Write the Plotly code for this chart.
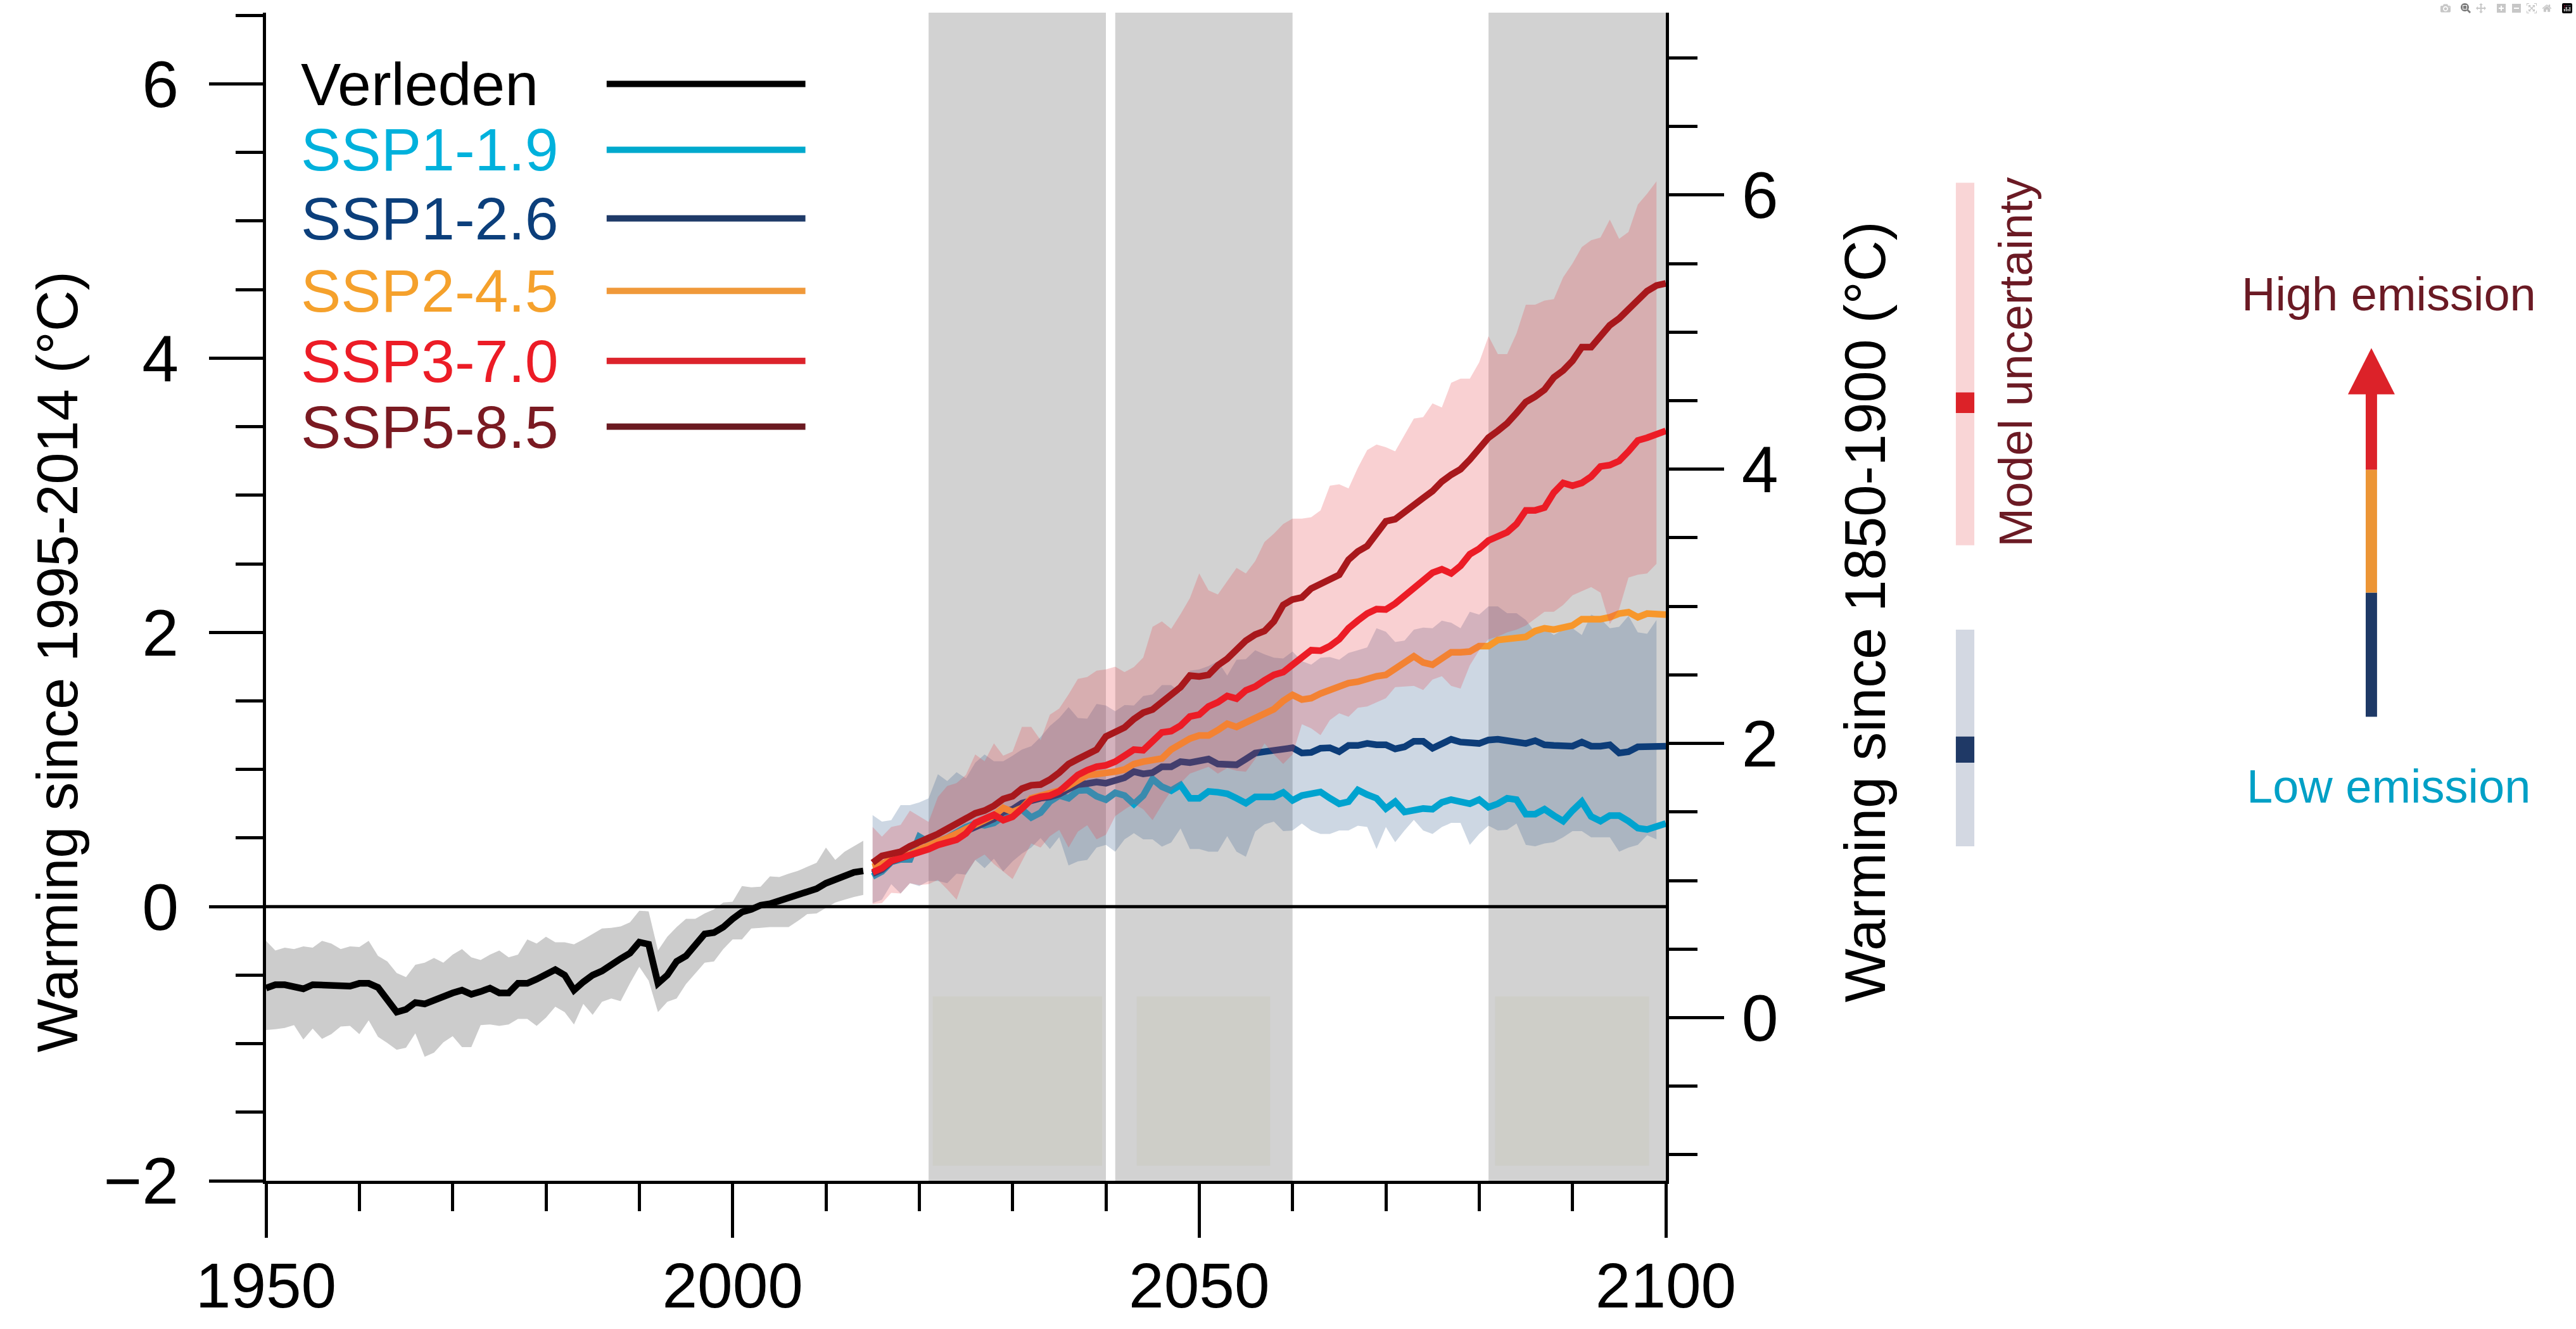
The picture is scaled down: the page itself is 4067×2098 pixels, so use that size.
import plotly.graph_objects as go

# ---------------- data ----------------
hist_years = list(range(1950, 2015))
hist_mean = [
    -0.595, -0.57, -0.57, -0.59, -0.60, -0.57, -0.57, -0.57, -0.58, -0.58,
    -0.56, -0.56, -0.59, -0.69, -0.77, -0.75, -0.70, -0.71, -0.68, -0.65,
    -0.63, -0.61, -0.64, -0.62, -0.595, -0.63, -0.63, -0.56, -0.56, -0.53,
    -0.49, -0.46, -0.50, -0.61, -0.55, -0.50, -0.47, -0.42, -0.38, -0.34,
    -0.26, -0.275, -0.56, -0.50, -0.40, -0.36, -0.28, -0.20, -0.19, -0.15,
    -0.09, -0.04, -0.02, 0.01, 0.02, 0.04, 0.06, 0.09, 0.10, 0.13,
    0.17, 0.20, 0.23, 0.25, 0.26]
hist_upper = [
    -0.25, -0.32, -0.30, -0.31, -0.29, -0.30, -0.25, -0.27, -0.31, -0.29,
    -0.295, -0.25, -0.36, -0.40, -0.485, -0.515, -0.425, -0.41, -0.375, -0.41,
    -0.35, -0.31, -0.37, -0.39, -0.35, -0.32, -0.37, -0.35, -0.24, -0.27,
    -0.22, -0.26, -0.26, -0.275, -0.24, -0.20, -0.16, -0.155, -0.145, -0.115,
    -0.03, -0.035, -0.32, -0.22, -0.15, -0.09, -0.09, -0.05, -0.02, 0.03,
    0.035, 0.15, 0.14, 0.145, 0.22, 0.215, 0.24, 0.26, 0.29, 0.32,
    0.43, 0.34, 0.40, 0.44, 0.48]
hist_lower = [
    -0.90, -0.895, -0.885, -0.865, -0.97, -0.89, -0.965, -0.93, -0.875, -0.87,
    -0.93, -0.83, -0.95, -0.995, -1.045, -1.03, -0.925, -1.095, -1.065, -0.99,
    -0.945, -1.025, -1.025, -0.865, -0.86, -0.87, -0.86, -0.82, -0.82, -0.87,
    -0.81, -0.73, -0.77, -0.86, -0.71, -0.79, -0.695, -0.67, -0.69, -0.56,
    -0.44, -0.54, -0.77, -0.695, -0.67, -0.565, -0.49, -0.41, -0.40, -0.31,
    -0.24, -0.24, -0.16, -0.155, -0.15, -0.15, -0.15, -0.105, -0.055, -0.05,
    -0.01, 0.03, 0.05, 0.07, 0.085]

fut_years = list(range(2015, 2101))
ssp119 = [
    0.22, 0.256, 0.325, 0.344, 0.344, 0.51, 0.47, 0.474, 0.50, 0.547,
    0.58, 0.605, 0.593, 0.61, 0.657, 0.685, 0.708, 0.65, 0.685, 0.766,
    0.81, 0.79, 0.846, 0.85, 0.805, 0.78, 0.83, 0.81, 0.747, 0.81,
    0.93, 0.874, 0.846, 0.887, 0.79, 0.79, 0.84, 0.834, 0.823, 0.79,
    0.754, 0.80, 0.80, 0.80, 0.833, 0.775, 0.81, 0.82, 0.836, 0.79,
    0.75, 0.765, 0.85, 0.816, 0.79, 0.715, 0.765, 0.69, 0.70, 0.715,
    0.71, 0.76, 0.78, 0.765, 0.75, 0.78, 0.725, 0.75, 0.79, 0.78,
    0.674, 0.674, 0.71, 0.664, 0.623, 0.70, 0.765, 0.657, 0.623, 0.664,
    0.664, 0.623, 0.572, 0.562, 0.58, 0.606]
ssp126 = [
    0.24, 0.27, 0.33, 0.35, 0.37, 0.40, 0.43, 0.46, 0.49, 0.52,
    0.55, 0.58, 0.60, 0.64, 0.69, 0.71, 0.754, 0.777, 0.79, 0.80,
    0.82, 0.857, 0.89, 0.897, 0.908, 0.90, 0.92, 0.94, 0.984, 0.968,
    0.977, 1.02, 1.02, 1.057, 1.05, 1.064, 1.076, 1.04, 1.034, 1.034,
    1.076, 1.12, 1.13, 1.14, 1.155, 1.158, 1.12, 1.124, 1.155, 1.158,
    1.13, 1.175, 1.175, 1.19, 1.18, 1.18, 1.15, 1.165, 1.205, 1.205,
    1.155, 1.19, 1.22, 1.20, 1.19, 1.19, 1.215, 1.22, 1.21, 1.20,
    1.19, 1.21, 1.18, 1.175, 1.17, 1.17, 1.20, 1.17, 1.17, 1.18,
    1.12, 1.13, 1.165, 1.17, 1.17, 1.17]
ssp245 = [
    0.29, 0.31, 0.345, 0.36, 0.38, 0.415, 0.45, 0.475, 0.50, 0.53,
    0.57, 0.60, 0.63, 0.665, 0.72, 0.69, 0.72, 0.79, 0.81, 0.83,
    0.846, 0.88, 0.926, 0.96, 0.966, 0.97, 0.984, 1.00, 1.04, 1.057,
    1.07, 1.08, 1.145, 1.19, 1.225, 1.248, 1.248, 1.287, 1.333, 1.31,
    1.34, 1.375, 1.41, 1.44, 1.50, 1.544, 1.51, 1.52, 1.554, 1.58,
    1.60, 1.63, 1.64, 1.666, 1.68, 1.69, 1.74, 1.78, 1.825, 1.78,
    1.764, 1.815, 1.855, 1.855, 1.86, 1.90, 1.90, 1.944, 1.954, 1.96,
    1.967, 2.01, 2.03, 2.02, 2.03, 2.05, 2.096, 2.096, 2.096, 2.11,
    2.137, 2.147, 2.11, 2.137, 2.137, 2.13]
ssp370 = [
    0.25, 0.28, 0.333, 0.353, 0.37, 0.395, 0.418, 0.449, 0.467, 0.487,
    0.533, 0.61, 0.64, 0.67, 0.63, 0.655, 0.715, 0.78, 0.80, 0.81,
    0.84, 0.90, 0.96, 0.995, 1.02, 1.03, 1.057, 1.10, 1.145, 1.14,
    1.21, 1.27, 1.28, 1.32, 1.386, 1.40, 1.46, 1.49, 1.536, 1.517,
    1.577, 1.605, 1.65, 1.69, 1.71, 1.76, 1.82, 1.87, 1.866, 1.90,
    1.95, 2.03, 2.086, 2.137, 2.17, 2.167, 2.21, 2.265, 2.33, 2.37,
    2.435, 2.46, 2.43, 2.485, 2.57, 2.61, 2.67, 2.70, 2.73, 2.79,
    2.89, 2.89, 2.91, 3.02, 3.09, 3.07, 3.09, 3.136, 3.21, 3.22,
    3.25, 3.32, 3.40, 3.42, 3.45, 3.47]
ssp585 = [
    0.32, 0.37, 0.385, 0.40, 0.44, 0.465, 0.50, 0.53, 0.567, 0.61,
    0.64, 0.68, 0.70, 0.735, 0.785, 0.805, 0.86, 0.885, 0.89, 0.926,
    0.977, 1.04, 1.076, 1.11, 1.145, 1.24, 1.267, 1.306, 1.368, 1.414,
    1.437, 1.49, 1.547, 1.60, 1.685, 1.678, 1.69, 1.76, 1.807, 1.88,
    1.94, 1.984, 2.01, 2.08, 2.20, 2.24, 2.255, 2.32, 2.35, 2.39,
    2.42, 2.53, 2.59, 2.63, 2.72, 2.81, 2.825, 2.88, 2.94, 2.98,
    3.03, 3.10, 3.15, 3.19, 3.26, 3.345, 3.42, 3.47, 3.525, 3.60,
    3.68, 3.72, 3.77, 3.86, 3.91, 3.98, 4.08, 4.08, 4.17, 4.24,
    4.29, 4.355, 4.42, 4.49, 4.53, 4.545]

band_years = list(range(2015, 2100))
ssp370_upper = [
    0.58, 0.51, 0.58, 0.595, 0.70, 0.66, 0.617, 0.80, 0.88, 0.90,
    0.96, 1.11, 1.06, 1.19, 1.10, 1.13, 1.31, 1.31, 1.214, 1.40,
    1.444, 1.547, 1.66, 1.674, 1.72, 1.73, 1.75, 1.71, 1.747, 1.816,
    2.04, 2.08, 2.025, 2.133, 2.25, 2.43, 2.306, 2.276, 2.375, 2.47,
    2.43, 2.52, 2.66, 2.72, 2.79, 2.83, 2.83, 2.84, 2.89, 3.07,
    3.08, 3.05, 3.20, 3.33, 3.37, 3.35, 3.32, 3.44, 3.56, 3.57,
    3.67, 3.64, 3.82, 3.85, 3.85, 3.97, 4.16, 4.03, 4.03, 4.18,
    4.39, 4.39, 4.42, 4.43, 4.59, 4.69, 4.81, 4.86, 4.88, 5.01,
    4.87, 4.92, 5.12, 5.20, 5.29]
ssp370_lower = [
    0.018, 0.025, 0.10, 0.095, 0.17, 0.156, 0.164, 0.195, 0.125, 0.05,
    0.24, 0.34, 0.38, 0.31, 0.256, 0.20, 0.33, 0.46, 0.43, 0.513,
    0.56, 0.43, 0.547, 0.593, 0.49, 0.524, 0.66, 0.708, 0.75, 0.71,
    0.63, 0.742, 0.846, 0.90, 0.97, 0.995, 1.02, 0.97, 1.01, 0.99,
    0.984, 1.076, 1.19, 1.11, 1.04, 1.11, 1.33, 1.30, 1.25, 1.36,
    1.41, 1.385, 1.45, 1.46, 1.49, 1.52, 1.60, 1.605, 1.61, 1.58,
    1.656, 1.68, 1.61, 1.59, 1.76, 1.87, 1.95, 1.97, 2.00, 2.02,
    2.05, 2.10, 2.15, 2.15, 2.20, 2.27, 2.30, 2.33, 2.29, 2.06,
    2.17, 2.40, 2.42, 2.43, 2.50]
ssp126_upper = [
    0.667, 0.62, 0.63, 0.74, 0.74, 0.76, 0.79, 0.965, 0.915, 0.98,
    0.935, 1.05, 1.11, 1.06, 1.06, 1.10, 1.145, 1.17, 1.237, 1.317,
    1.375, 1.455, 1.375, 1.37, 1.478, 1.467, 1.425, 1.47, 1.467, 1.536,
    1.547, 1.616, 1.616, 1.56, 1.72, 1.73, 1.754, 1.79, 1.685, 1.80,
    1.805, 1.87, 1.84, 1.815, 1.81, 1.86, 1.79, 1.764, 1.815, 1.82,
    1.80, 1.85, 1.87, 1.89, 2.03, 2.005, 1.93, 1.94, 2.02, 2.035,
    2.03, 2.086, 2.07, 2.03, 2.15, 2.13, 2.19, 2.19, 2.14, 2.14,
    2.09, 2.00, 2.03, 1.98, 2.02, 2.03, 1.98, 2.13, 2.10, 2.03,
    2.04, 2.12, 2.00, 1.99, 2.09]
ssp126_lower = [
    0.025, 0.05, 0.164, 0.095, 0.17, 0.15, 0.187, 0.187, 0.17, 0.24,
    0.233, 0.34, 0.28, 0.35, 0.256, 0.33, 0.387, 0.43, 0.50, 0.42,
    0.506, 0.30, 0.33, 0.34, 0.43, 0.45, 0.40, 0.49, 0.535, 0.49,
    0.49, 0.437, 0.467, 0.57, 0.42, 0.42, 0.40, 0.40, 0.513, 0.40,
    0.363, 0.547, 0.60, 0.62, 0.55, 0.555, 0.606, 0.555, 0.53, 0.53,
    0.555, 0.555, 0.59, 0.58, 0.42, 0.58, 0.47, 0.555, 0.633, 0.555,
    0.53, 0.58, 0.61, 0.61, 0.45, 0.53, 0.59, 0.555, 0.56, 0.606,
    0.45, 0.44, 0.46, 0.47, 0.505, 0.55, 0.55, 0.505, 0.505, 0.505,
    0.40, 0.43, 0.45, 0.52, 0.49]

for arr in (hist_mean, hist_upper, hist_lower):
    assert len(arr) == len(hist_years)
for arr in (ssp119, ssp126, ssp245, ssp370, ssp585):
    assert len(arr) == len(fut_years)
for arr in (ssp370_upper, ssp370_lower, ssp126_upper, ssp126_lower):
    assert len(arr) == len(band_years)

# legend rows
legend_labels = ["Verleden", "SSP1-1.9", "SSP1-2.6", "SSP2-4.5", "SSP3-7.0", "SSP5-8.5"]
legend_rows = [6.0, 5.52, 5.02, 4.49, 3.98, 3.50]
legend_text_colors = ["#000000", "#00b1dc", "#0c3f7b", "#f5a12c", "#ec1c26", "#7a1a22"]
legend_line_colors = ["#000000", "#00a9cd", "#1f3a68", "#f0993a", "#dc232b", "#6b1a21"]

# periods (gray columns) and inset placeholders
periods = [(2021, 2040), (2041, 2060), (2081, 2100)]
inset_boxes = [(2021.45, 2039.6), (2043.3, 2057.6), (2081.7, 2098.2)]
inset_y = (-1.89, -0.655)

# model uncertainty bars (left-axis units): (low, high, mark_low, mark_high)
unc_pink = (2.635, 5.28, 3.60, 3.75)
unc_blue = (0.44, 2.02, 1.05, 1.24)

OFFSET = 0.81           # 1850-1900 -> 1995-2014 offset
Y_RANGE = (-2.0, 6.52)
X_RANGE = (1950, 2100)

FONT = "Liberation Sans, Arial, Helvetica, sans-serif"

C119 = "#00a3cf"
C126 = "#0d3d79"
C245 = "#f7972b"
C370 = "#ec1c26"
C585 = "#a8181c"
LW = 10.5

fig = go.Figure()

# historical band
fig.add_trace(go.Scatter(x=hist_years + hist_years[::-1], y=hist_upper + hist_lower[::-1],
                         fill="toself", fillcolor="#cccccc", line=dict(width=0),
                         mode="lines", hoverinfo="skip"))
# SSP1-2.6 band
fig.add_trace(go.Scatter(x=band_years + band_years[::-1], y=ssp126_upper + ssp126_lower[::-1],
                         fill="toself", fillcolor="rgba(55,95,143,0.25)", line=dict(width=0),
                         mode="lines", hoverinfo="skip"))
# zero line
fig.add_trace(go.Scatter(x=list(X_RANGE), y=[0, 0], mode="lines",
                         line=dict(color="black", width=5), hoverinfo="skip"))
# low lines
fig.add_trace(go.Scatter(x=fut_years, y=ssp119, mode="lines", line=dict(color=C119, width=LW)))
fig.add_trace(go.Scatter(x=fut_years, y=ssp126, mode="lines", line=dict(color=C126, width=LW)))
fig.add_trace(go.Scatter(x=fut_years, y=ssp245, mode="lines", line=dict(color=C245, width=LW)))
# SSP3-7.0 band
fig.add_trace(go.Scatter(x=band_years + band_years[::-1], y=ssp370_upper + ssp370_lower[::-1],
                         fill="toself", fillcolor="rgba(231,67,75,0.25)", line=dict(width=0),
                         mode="lines", hoverinfo="skip"))
fig.add_trace(go.Scatter(x=fut_years, y=ssp370, mode="lines", line=dict(color=C370, width=LW)))
fig.add_trace(go.Scatter(x=fut_years, y=ssp585, mode="lines", line=dict(color=C585, width=LW)))
# historical line
fig.add_trace(go.Scatter(x=hist_years, y=hist_mean, mode="lines", line=dict(color="black", width=LW)))
# dummy for right axis
fig.add_trace(go.Scatter(x=[None], y=[None], yaxis="y2", mode="lines"))

shapes = []
for x0, x1 in periods:
    shapes.append(dict(type="rect", xref="x", yref="paper", x0=x0, x1=x1, y0=0, y1=1,
                       fillcolor="#d2d2d2", line=dict(width=0), layer="below"))
for x0, x1 in inset_boxes:
    shapes.append(dict(type="rect", xref="x", yref="y", x0=x0, x1=x1, y0=inset_y[0], y1=inset_y[1],
                       fillcolor="#cecec8", line=dict(width=0), layer="below"))

# legend lines
for yv, col in zip(legend_rows, legend_line_colors):
    shapes.append(dict(type="line", xref="x", yref="y", x0=1986.5, x1=2007.8, y0=yv, y1=yv,
                       line=dict(color=col, width=10)))

# model uncertainty bars (x in paper)
bx0, bx1 = 1.2072, 1.2204
for (lo, hi, mlo, mhi), light, dark in [(unc_pink, "#f9d5d6", "#dc2228"),
                                         (unc_blue, "#d3d8e2", "#1f3966")]:
    shapes.append(dict(type="rect", xref="paper", yref="y", x0=bx0, x1=bx1, y0=lo, y1=hi,
                       fillcolor=light, line=dict(width=0)))
    shapes.append(dict(type="rect", xref="paper", yref="y", x0=bx0, x1=bx1, y0=mlo, y1=mhi,
                       fillcolor=dark, line=dict(width=0)))

# emission arrow (paper coords)
ax0, ax1 = 1.5000, 1.5081
for y0, y1, col in [(0.3972, 0.5035, "#1e3966"), (0.5035, 0.6087, "#ec9535"), (0.6087, 0.6740, "#dc2229")]:
    shapes.append(dict(type="rect", xref="paper", yref="paper", x0=ax0, x1=ax1, y0=y0, y1=y1,
                       fillcolor=col, line=dict(width=0)))
shapes.append(dict(type="path", xref="paper", yref="paper",
                   path="M 1.4873,0.6733 L 1.5208,0.6733 L 1.50405,0.7129 Z",
                   fillcolor="#dc2229", line=dict(width=0)))

annotations = []
for lab, yv, col in zip(legend_labels, legend_rows, legend_text_colors):
    annotations.append(dict(text=lab, x=1953.6, y=yv, xref="x", yref="y", xanchor="left",
                            yanchor="middle", showarrow=False,
                            font=dict(family=FONT, size=95, color=col)))
annotations += [
    dict(text="Warming since 1995-2014 (°C)", x=-0.1489, y=0.4444, xref="paper", yref="paper",
         textangle=-90, showarrow=False, xanchor="center", yanchor="middle",
         font=dict(family=FONT, size=90, color="black")),
    dict(text="Warming since 1850-1900 (°C)", x=1.1421, y=0.4867, xref="paper", yref="paper",
         textangle=-90, showarrow=False, xanchor="center", yanchor="middle",
         font=dict(family=FONT, size=90, color="black")),
    dict(text="Model uncertainty", x=1.2502, y=0.7009, xref="paper", yref="paper",
         textangle=-90, showarrow=False, xanchor="center", yanchor="middle",
         font=dict(family=FONT, size=74, color="#6b1a24")),
    dict(text="High emission", x=1.5163, y=0.759, xref="paper", yref="paper",
         showarrow=False, xanchor="center", yanchor="middle",
         font=dict(family=FONT, size=74, color="#6b1a24")),
    dict(text="Low emission", x=1.5163, y=0.3376, xref="paper", yref="paper",
         showarrow=False, xanchor="center", yanchor="middle",
         font=dict(family=FONT, size=74, color="#00a0c6")),
]

tickfont = dict(family=FONT, size=104, color="black")
fig.update_layout(
    width=4067, height=2098,
    margin=dict(l=420, r=1437, t=20, b=234, pad=0, autoexpand=False),
    paper_bgcolor="white", plot_bgcolor="white",
    showlegend=False,
    shapes=shapes, annotations=annotations,
    xaxis=dict(range=list(X_RANGE), showline=True, linecolor="black", linewidth=5,
               automargin=False,
               ticks="outside", tickmode="array", tickvals=[1950, 2000, 2050, 2100],
               ticklen=85, tickwidth=5, tickcolor="black",
               minor=dict(tickmode="linear", tick0=1950, dtick=10, ticklen=43, tickwidth=5,
                          tickcolor="black", ticks="outside", showgrid=False),
               showgrid=False, zeroline=False, tickfont=dict(family=FONT, size=100, color="black"),
               ticklabelstandoff=-10),
    yaxis=dict(range=list(Y_RANGE), showline=True, linecolor="black", linewidth=5,
               automargin=False,
               ticks="outside", tickmode="array", tickvals=[-2, 0, 2, 4, 6],
               ticklen=85, tickwidth=5, tickcolor="black",
               minor=dict(tickmode="linear", tick0=0, dtick=0.5, ticklen=43, tickwidth=5,
                          tickcolor="black", ticks="outside", showgrid=False),
               showgrid=False, zeroline=False, tickfont=tickfont, ticklabelstandoff=27),
    yaxis2=dict(range=[Y_RANGE[0] + OFFSET, Y_RANGE[1] + OFFSET], overlaying="y", side="right",
                automargin=False,
                showline=True, linecolor="black", linewidth=5,
                ticks="outside", tickmode="array", tickvals=[0, 2, 4, 6],
                ticklen=87, tickwidth=5, tickcolor="black",
                minor=dict(tickmode="linear", tick0=0, dtick=0.5, ticklen=45, tickwidth=5,
                           tickcolor="black", ticks="outside", showgrid=False),
                showgrid=False, zeroline=False, tickfont=tickfont, ticklabelstandoff=7),
)

fig.write_html("out.html", post_script="document.body.style.margin='0';document.body.style.overflow='hidden';")
